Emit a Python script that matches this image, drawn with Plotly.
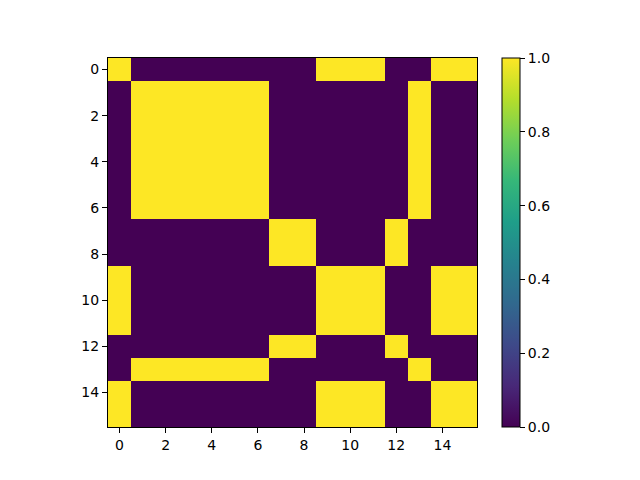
import plotly.graph_objects as go

# 16x16 binary matrix
row_a = [1, 0, 0, 0, 0, 0, 0, 0, 0, 1, 1, 1, 0, 0, 1, 1]  # rows 0, 9-11, 14-15
row_b = [0, 1, 1, 1, 1, 1, 1, 0, 0, 0, 0, 0, 0, 1, 0, 0]  # rows 1-6, 13
row_c = [0, 0, 0, 0, 0, 0, 0, 1, 1, 0, 0, 0, 1, 0, 0, 0]  # rows 7-8, 12

matrix = [
    row_a,
    row_b, row_b, row_b, row_b, row_b, row_b,
    row_c, row_c,
    row_a, row_a, row_a,
    row_c,
    row_b,
    row_a, row_a,
]
x_idx = list(range(16))
y_idx = list(range(16))
tick_vals = [0, 2, 4, 6, 8, 10, 12, 14]
cbar_ticks = [0.0, 0.2, 0.4, 0.6, 0.8, 1.0]

# page body has an 8px margin, so the figure is shrunk by that much
fig = go.Figure()
fig.add_trace(
    go.Heatmap(
        z=matrix,
        x=x_idx,
        y=y_idx,
        colorscale='Viridis',
        zmin=0,
        zmax=1,
        hoverinfo='skip',
        colorbar=dict(
            x=(502 - 108) / 369,
            xanchor='left',
            xpad=0,
            y=0.5,
            yanchor='middle',
            ypad=0,
            len=1,
            lenmode='fraction',
            thickness=18,
            outlinewidth=1,
            outlinecolor='black',
            ticks='outside',
            ticklen=5,
            tickcolor='black',
            tickvals=cbar_ticks,
            tickformat='.1f',
            tickfont=dict(family='DejaVu Sans', size=14, color='black'),
        ),
    )
)

axis_style = dict(
    showline=True,
    mirror=True,
    linecolor='black',
    linewidth=1,
    ticks='outside',
    ticklen=5,
    tickcolor='black',
    tickvals=tick_vals,
    showgrid=False,
    zeroline=False,
    tickfont=dict(family='DejaVu Sans', size=14, color='black'),
)

fig.update_layout(
    width=632,
    height=472,
    margin=dict(l=100, r=163, t=50, b=53),
    paper_bgcolor='white',
    plot_bgcolor='white',
    xaxis=dict(range=[-0.5, 15.5], **axis_style),
    yaxis=dict(range=[15.5, -0.5], **axis_style),
    font=dict(family='DejaVu Sans', color='black'),
)

fig.write_html("out.html")
